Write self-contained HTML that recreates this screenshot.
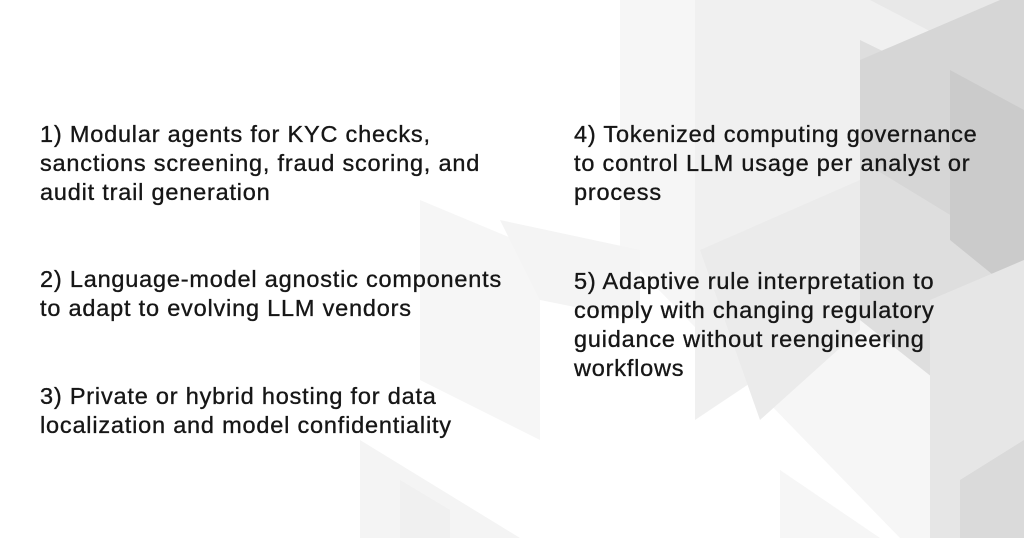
<!DOCTYPE html>
<html><head><style>
html,body{margin:0;padding:0;}
body{width:1024px;height:538px;position:relative;overflow:hidden;background:#fff;font-family:"Liberation Sans",Arial,sans-serif;}
svg{position:absolute;left:0;top:0;}
.t{position:absolute;font-size:23.5px;letter-spacing:0.8px;line-height:29px;color:#161616;white-space:nowrap;-webkit-text-stroke:0.35px #161616;}
</style></head><body>
<svg width="1024" height="538">
<polygon points="620,0 1024,0 1024,538 900,538 620,250" fill="#f6f6f6"/>
<polygon points="695,0 1024,0 1024,200 695,420" fill="#f0f0f0"/>
<polygon points="760,0 1024,0 1024,80 870,0" fill="#e8e8e8"/>
<polygon points="860,40 1024,120 1024,450 860,320" fill="#dedede"/>
<polygon points="860,60 1000,0 1024,0 1024,260 860,160" fill="#d6d6d6"/>
<polygon points="950,70 1024,110 1024,300 950,240" fill="#cbcbcb"/>
<polygon points="700,250 860,180 860,330 760,420" fill="#ebebeb"/>
<polygon points="930,300 1024,260 1024,538 930,538" fill="#e6e6e6"/>
<polygon points="960,480 1024,440 1024,538 960,538" fill="#dadada"/>
<polygon points="420,200 540,250 540,440 420,380" fill="#f6f6f6"/>
<polygon points="500,220 640,250 640,320 540,300" fill="#f4f4f4"/>
<polygon points="360,440 520,538 360,538" fill="#f4f4f4"/>
<polygon points="400,480 450,510 450,538 400,538" fill="#f0f0f0"/>
<polygon points="780,470 880,538 780,538" fill="#f6f6f6"/>
</svg>
<div class="t" style="left:40px;top:120px;">1) Modular agents for KYC checks,<br>sanctions screening, fraud scoring, and<br>audit trail generation</div>
<div class="t" style="left:40px;top:265px;">2) Language-model agnostic components<br>to adapt to evolving LLM vendors</div>
<div class="t" style="left:40px;top:382px;">3) Private or hybrid hosting for data<br>localization and model confidentiality</div>
<div class="t" style="left:574px;top:120px;">4) Tokenized computing governance<br>to control LLM usage per analyst or<br>process</div>
<div class="t" style="left:574px;top:267px;">5) Adaptive rule interpretation to<br>comply with changing regulatory<br>guidance without reengineering<br>workflows</div>
</body></html>
